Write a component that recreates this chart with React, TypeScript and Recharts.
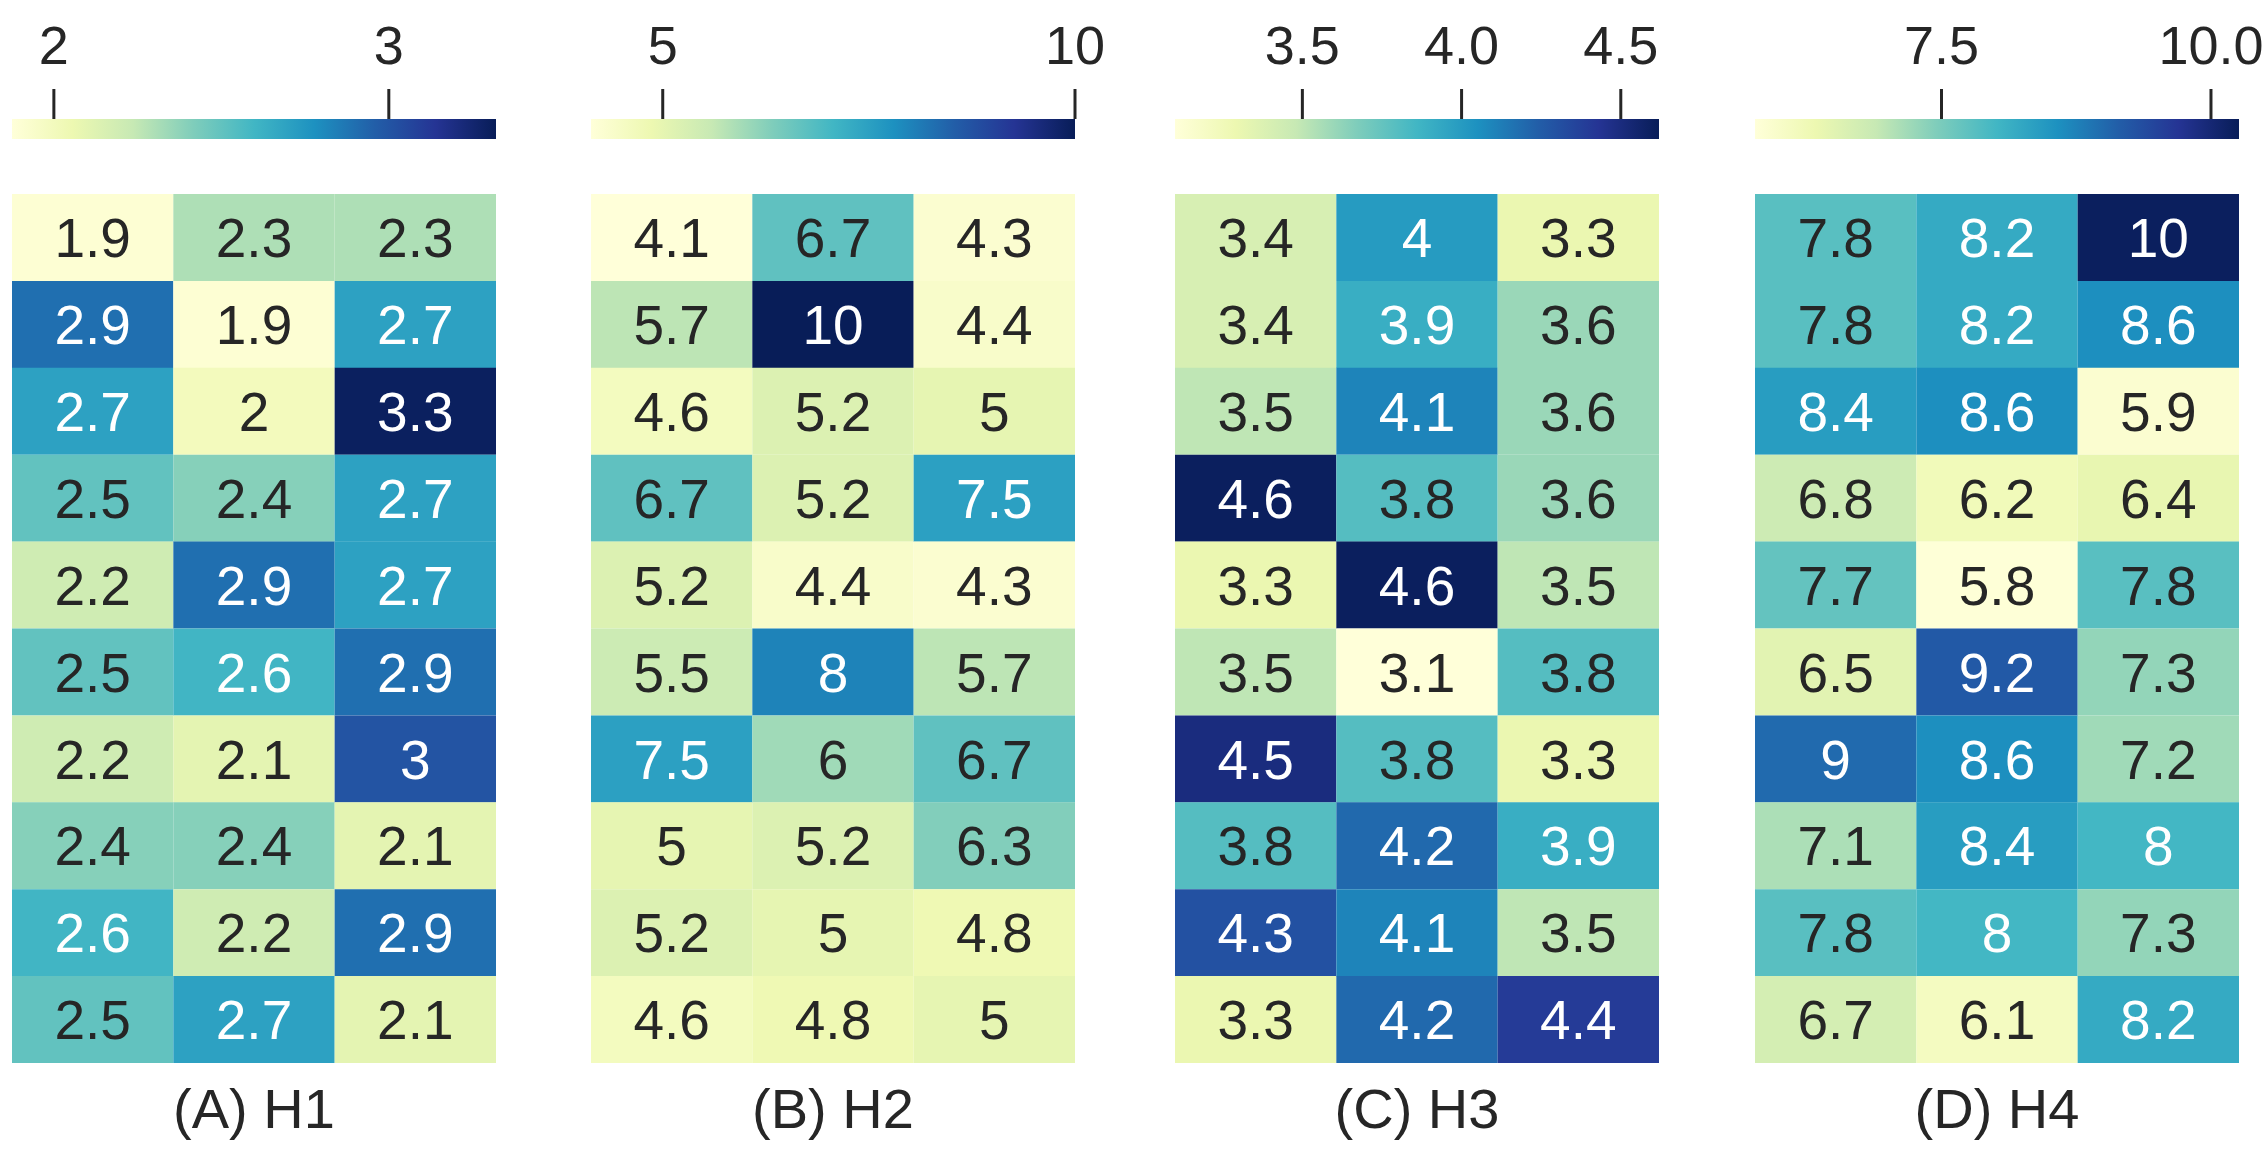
import React from 'react';
import { BarChart, Bar, XAxis, YAxis, Cell, LabelList } from 'recharts';

const FONT = '"Liberation Sans", Arial, Helvetica, sans-serif';
const TEXT_DARK = '#262626';

// ---------- data ----------
const panelTitles = ['(A) H1', '(B) H2', '(C) H3', '(D) H4'];

const h1Values = [
  [1.9, 2.3, 2.3],
  [2.9, 1.9, 2.7],
  [2.7, 2.0, 3.3],
  [2.5, 2.4, 2.7],
  [2.2, 2.9, 2.7],
  [2.5, 2.6, 2.9],
  [2.2, 2.1, 3.0],
  [2.4, 2.4, 2.1],
  [2.6, 2.2, 2.9],
  [2.5, 2.7, 2.1],
];
const h2Values = [
  [4.1, 6.7, 4.3],
  [5.7, 10.0, 4.4],
  [4.6, 5.2, 5.0],
  [6.7, 5.2, 7.5],
  [5.2, 4.4, 4.3],
  [5.5, 8.0, 5.7],
  [7.5, 6.0, 6.7],
  [5.0, 5.2, 6.3],
  [5.2, 5.0, 4.8],
  [4.6, 4.8, 5.0],
];
const h3Values = [
  [3.4, 4.0, 3.3],
  [3.4, 3.9, 3.6],
  [3.5, 4.1, 3.6],
  [4.6, 3.8, 3.6],
  [3.3, 4.6, 3.5],
  [3.5, 3.1, 3.8],
  [4.5, 3.8, 3.3],
  [3.8, 4.2, 3.9],
  [4.3, 4.1, 3.5],
  [3.3, 4.2, 4.4],
];
const h4Values = [
  [7.8, 8.2, 10.2],
  [7.8, 8.2, 8.6],
  [8.4, 8.6, 5.9],
  [6.8, 6.2, 6.4],
  [7.7, 5.8, 7.8],
  [6.5, 9.2, 7.3],
  [9.0, 8.6, 7.2],
  [7.1, 8.4, 8.0],
  [7.8, 8.0, 7.3],
  [6.7, 6.1, 8.2],
];

// colour-scale limits
const h1Range = [1.875, 3.32];
const h2Range = [4.13, 10.0];
const h3Range = [3.1, 4.62];
const h4Range = [5.77, 10.26];

const h1Ticks = [2, 3];
const h2Ticks = [5, 10];
const h3Ticks = [3.5, 4.0, 4.5];
const h4Ticks = [7.5, 10.0];

const h1TickLabels = ['2', '3'];
const h2TickLabels = ['5', '10'];
const h3TickLabels = ['3.5', '4.0', '4.5'];
const h4TickLabels = ['7.5', '10.0'];

// YlGnBu colormap nodes
const ylGnBu = ['#ffffd9', '#edf8b1', '#c7e9b4', '#7fcdbb', '#41b6c4', '#1d91c0', '#225ea8', '#253494', '#081d58'];

// ---------- helpers ----------
const hexToRgb = (h: string) => [parseInt(h.slice(1, 3), 16), parseInt(h.slice(3, 5), 16), parseInt(h.slice(5, 7), 16)];

const cmap = (t: number) => {
  const tt = Math.max(0, Math.min(1, t));
  const pos = tt * (ylGnBu.length - 1);
  const i = Math.min(ylGnBu.length - 2, Math.floor(pos));
  const f = pos - i;
  const a = hexToRgb(ylGnBu[i]);
  const b = hexToRgb(ylGnBu[i + 1]);
  return [0, 1, 2].map((k) => a[k] + (b[k] - a[k]) * f);
};

const rgbStr = (c: number[]) => `rgb(${c.map((v) => Math.round(v)).join(',')})`;

const luminance = (c: number[]) => {
  const lin = c.map((v) => {
    const s = v / 255;
    return s <= 0.03928 ? s / 12.92 : Math.pow((s + 0.055) / 1.055, 2.4);
  });
  return 0.2126 * lin[0] + 0.7152 * lin[1] + 0.0722 * lin[2];
};

const fmt = (v: number) => String(parseFloat(v.toPrecision(2)));

const PANEL_LEFTS = [12, 591, 1175, 1755];
const PANEL_W = 484;
const HEAT_TOP = 194;
const HEAT_H = 869;
const CELL_FONT = 55;

type PanelProps = {
  idx: number;
  values: number[][];
  range: number[];
  ticks: number[];
  tickLabels: string[];
  title: string;
};

const Panel = ({ idx, values, range, ticks, tickLabels, title }: PanelProps) => {
  const [vmin, vmax] = range;
  const colorOf = (v: number) => cmap((v - vmin) / (vmax - vmin));
  const rows = values.map((r, i) => ({ row: `r${i}`, a: 1, b: 1, c: 1, v0: r[0], v1: r[1], v2: r[2] }));
  const cbData = [{ name: 'cb', span: [vmin, vmax] }];
  const gradId = `grad-${idx}`;
  const left = PANEL_LEFTS[idx];

  const renderCellText = (p: any) => {
    const x = p.x ?? p.viewBox?.x;
    const y = p.y ?? p.viewBox?.y;
    const w = p.width ?? p.viewBox?.width;
    const h = p.height ?? p.viewBox?.height;
    const v = Number(p.value);
    const col = colorOf(v);
    const fill = luminance(col) > 0.408 ? TEXT_DARK : '#ffffff';
    return (
      <text
        x={x + w / 2}
        y={y + h / 2 + 0.358 * CELL_FONT}
        textAnchor="middle"
        fontSize={CELL_FONT}
        fontFamily={FONT}
        fill={fill}
      >
        {fmt(v)}
      </text>
    );
  };

  const renderTitle = (p: any) => {
    const vb = p.viewBox || {};
    return (
      <text
        x={vb.x + vb.width / 2}
        y={vb.y + 65}
        textAnchor="middle"
        fontSize={56}
        fontFamily={FONT}
        fill={TEXT_DARK}
      >
        {title}
      </text>
    );
  };

  const keys = ['a', 'b', 'c'];

  return (
    <>
      <div style={{ position: 'absolute', left, top: 0 }}>
        <BarChart
          width={PANEL_W + 40}
          height={139}
          data={cbData}
          layout="vertical"
          margin={{ top: 0, right: 40, bottom: 0, left: 0 }}
          barCategoryGap={0}
        >
          <defs>
            <linearGradient id={gradId} x1="0" y1="0" x2="1" y2="0">
              {ylGnBu.map((c, i) => (
                <stop key={i} offset={`${(i / (ylGnBu.length - 1)) * 100}%`} stopColor={c} />
              ))}
            </linearGradient>
          </defs>
          <XAxis
            type="number"
            orientation="top"
            domain={[vmin, vmax]}
            allowDataOverflow
            ticks={ticks}
            interval={0}
            tickFormatter={(v: number, i: number) => tickLabels[i] ?? String(v)}
            height={119}
            axisLine={false}
            tickSize={30}
            tickMargin={25}
            tickLine={{ stroke: TEXT_DARK, strokeWidth: 3 }}
            tick={{ fill: TEXT_DARK, fontSize: 54, fontFamily: FONT }}
          />
          <YAxis type="category" dataKey="name" hide />
          <Bar dataKey="span" fill={`url(#${gradId})`} isAnimationActive={false} />
        </BarChart>
      </div>
      <div style={{ position: 'absolute', left, top: HEAT_TOP }}>
        <BarChart
          width={PANEL_W}
          height={1151 - HEAT_TOP}
          data={rows}
          layout="vertical"
          margin={{ top: 0, right: 0, bottom: 0, left: 0 }}
          barCategoryGap={0}
          barGap={0}
        >
          <XAxis
            type="number"
            domain={[0, 3]}
            height={1151 - HEAT_TOP - HEAT_H}
            tick={false}
            axisLine={false}
            tickLine={false}
            label={{ value: title, content: renderTitle }}
          />
          <YAxis type="category" dataKey="row" hide />
          {keys.map((k, ci) => (
            <Bar key={k} dataKey={k} stackId="s" isAnimationActive={false}>
              {rows.map((r: any, ri) => (
                <Cell key={ri} fill={rgbStr(colorOf(r[`v${ci}`]))} />
              ))}
              <LabelList dataKey={`v${ci}`} content={renderCellText} />
            </Bar>
          ))}
        </BarChart>
      </div>
    </>
  );
};

export default function App() {
  const all = [
    { values: h1Values, range: h1Range, ticks: h1Ticks, tickLabels: h1TickLabels },
    { values: h2Values, range: h2Range, ticks: h2Ticks, tickLabels: h2TickLabels },
    { values: h3Values, range: h3Range, ticks: h3Ticks, tickLabels: h3TickLabels },
    { values: h4Values, range: h4Range, ticks: h4Ticks, tickLabels: h4TickLabels },
  ];
  return (
    <div
      style={{
        position: 'absolute',
        left: 0,
        top: 0,
        width: 2264,
        height: 1151,
        background: '#ffffff',
        overflow: 'hidden',
      }}
    >
      {all.map((p, i) => (
        <Panel key={i} idx={i} title={panelTitles[i]} {...p} />
      ))}
    </div>
  );
}
